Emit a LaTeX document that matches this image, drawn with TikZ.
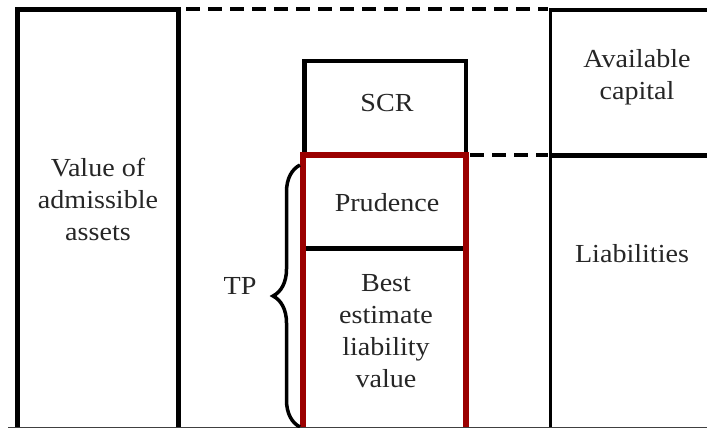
\documentclass[tikz,border=0pt]{standalone}
\usepackage{fontspec}
\setmainfont{Liberation Serif}[FakeStretch=1.08]
\usetikzlibrary{decorations.pathreplacing}
\definecolor{boxred}{RGB}{155,0,0}
\tikzset{
  lbl/.style={align=center, inner sep=0pt, font=\fontsize{26}{32}\selectfont, text=black!85},
  heavy/.style={line width=4.5pt, black},
  medium/.style={line width=3.5pt, black},
  dashline/.style={line width=4pt, black, dash pattern=on 14pt off 8pt},
  redline/.style={line width=6pt, boxred},
  bracestyle/.style={line width=3.5pt, black, decorate, decoration={brace, amplitude=27pt}}
}
\begin{document}
\begin{tikzpicture}[x=1pt,y=-1pt]
\useasboundingbox (0,0) rectangle (707,428);
% coordinates
\coordinate (LBL) at (17.5,428);
\coordinate (LTL) at (17.5,9.5);
\coordinate (LTR) at (178.5,9.5);
\coordinate (LBR) at (178.5,428);
\coordinate (D1a) at (186,9.5);
\coordinate (D1b) at (548,9.5);
\coordinate (RB) at (550.5,428);
\coordinate (RT) at (550.5,10);
\coordinate (RTE) at (707,10);
\coordinate (RM) at (550.5,155.3);
\coordinate (RME) at (707,155.3);
\coordinate (D2a) at (470,155.3);
\coordinate (D2b) at (548,155.3);
\coordinate (SBL) at (304.7,155);
\coordinate (STL) at (304.7,61);
\coordinate (STR) at (466,61);
\coordinate (SBR) at (466,155);
\coordinate (DVL) at (306,248.5);
\coordinate (DVR) at (463.5,248.5);
\coordinate (RBL) at (303,428);
\coordinate (RTL) at (303,155);
\coordinate (RTR) at (466.3,155);
\coordinate (RBR) at (466.3,428);
\coordinate (BL) at (8,427.5);
\coordinate (BR) at (707,427.5);
\coordinate (BRb) at (300,427);
\coordinate (BRt) at (300,165);

% left box
\draw[heavy] (LBL) -- (LTL) -- (LTR) -- (LBR);
% top dashed
\draw[dashline] (D1a) -- (D1b);
% right column
\draw[medium] (RB) -- (RT) -- (RTE);
\draw[heavy] (RM) -- (RME);
\draw[dashline] (D2a) -- (D2b);
% SCR box
\draw[heavy] (SBL) -- (STL) -- (STR) -- (SBR);
% divider
\draw[line width=5pt] (DVL) -- (DVR);
% red box
\draw[redline] (RBL) -- (RTL) -- (RTR) -- (RBR);
% bottom line
\draw[line width=1.2pt, black!75] (BL) -- (BR);
% brace
\draw[bracestyle] (BRb) -- (BRt);

% texts
\node[lbl] (assets) at (98,199) {Value of\\admissible\\assets};
\node[lbl] (avail) at (637,77) {Available\\capital};
\node[lbl] (liab) at (632,254) {Liabilities};
\node[lbl] (scr) at (387,103) {SCR};
\node[lbl] (prud) at (387,203) {Prudence};
\node[lbl] (best) at (386,331) {Best\\estimate\\liability\\value};
\node[lbl] (tp) at (240,286) {TP};
\end{tikzpicture}
\end{document}
